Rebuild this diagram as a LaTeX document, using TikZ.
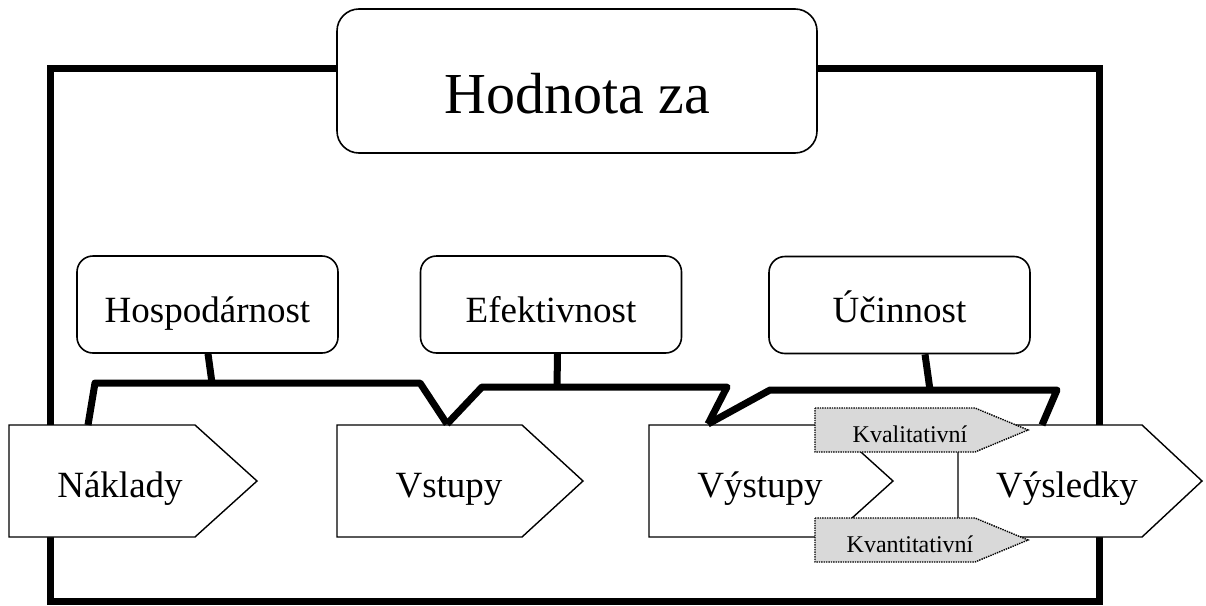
\documentclass[tikz,border=0pt]{standalone}
\usepackage{fontspec}
\setmainfont{Liberation Serif}
\tikzset{
  frameline/.style={line width=7pt},
  rbox/.style={draw, line width=1.6pt, rounded corners=16pt, fill=white, inner sep=0pt},
  titlebox/.style={rbox, rounded corners=22pt, font=\fontsize{58}{64}\selectfont, text height=70pt, text depth=6pt},
  midbox/.style={rbox, minimum width=261pt, minimum height=97pt, font=\fontsize{37}{44}\selectfont, text height=40pt, text depth=5pt},
  pent/.style={draw, line width=1.4pt, fill=white},
  tag/.style={draw, densely dotted, line width=1.4pt, fill=gray!30},
  link/.style={line width=7pt, line join=round},
  bigtxt/.style={font=\fontsize{37}{44}\selectfont, inner sep=0pt, anchor=base},
  smalltxt/.style={font=\fontsize{24}{28}\selectfont, inner sep=0pt, anchor=base}
}
\begin{document}
\begin{tikzpicture}[x=1pt,y=-1pt]
\useasboundingbox (0,0) rectangle (1206,605);
% outer frame
\draw[frameline] (50,68.5) rectangle (1099,601.5);
% title
\node[titlebox, minimum width=480pt, minimum height=144pt] (title) at (577,81) {Hodnota za};
% middle boxes
\node[midbox] (hosp) at (207.5,304.5) {Hospodárnost};
\node[midbox] (efek) at (551,304.5) {Efektivnost};
\node[midbox] (ucin) at (899.5,305) {Účinnost};
% pentagons
\draw[pent] (9,425) -- (195,425) -- (257,481) -- (195,537) -- (9,537) -- cycle;
\draw[pent] (337,425) -- (522,425) -- (583,481) -- (522,537) -- (337,537) -- cycle;
\draw[pent] (649,425) -- (831,425) -- (893,481) -- (831,537) -- (649,537) -- cycle;
\draw[pent] (958,425) -- (1142,425) -- (1202,481) -- (1142,537) -- (958,537) -- cycle;
\node[bigtxt] (nakl) at (120,497) {Náklady};
\node[bigtxt] (vstu) at (449,497) {Vstupy};
\node[bigtxt] (vyst) at (760,497) {Výstupy};
\node[bigtxt] (vysl) at (1067,497) {Výsledky};
% bracket coordinates
\coordinate (nk) at (88,425);
\coordinate (vs) at (447,424);
\coordinate (vy) at (708,424);
\coordinate (vl) at (1042,425);
\coordinate (h1) at (95,383);
\coordinate (h2) at (420,383);
\coordinate (hm) at (212,383);
\coordinate (e1) at (482,387);
\coordinate (e2) at (727,387);
\coordinate (em) at (557,387);
\coordinate (u1) at (770,390);
\coordinate (u2) at (1057,390);
\coordinate (um) at (930,390);
% connectors
\draw[link] ([xshift=0.5pt]hosp.south) -- (hm);
\draw[link] (nk) -- (h1) -- (h2) -- (vs);
\draw[link] ([xshift=6.5pt]efek.south) -- (em);
\draw[link] (vs) -- (e1) -- (e2) -- (vy);
\draw[link] ([xshift=25.5pt]ucin.south) -- (um);
\draw[link] (vy) -- (u1) -- (u2) -- (vl);
% tags
\draw[tag] (815,408) -- (975,408) -- (1028,430) -- (975,452) -- (815,452) -- cycle;
\draw[tag] (815,518) -- (975,518) -- (1028,540) -- (975,562) -- (815,562) -- cycle;
\node[smalltxt] (kval) at (910,442) {Kvalitativní};
\node[smalltxt] (kvan) at (910,552) {Kvantitativní};
\end{tikzpicture}
\end{document}
